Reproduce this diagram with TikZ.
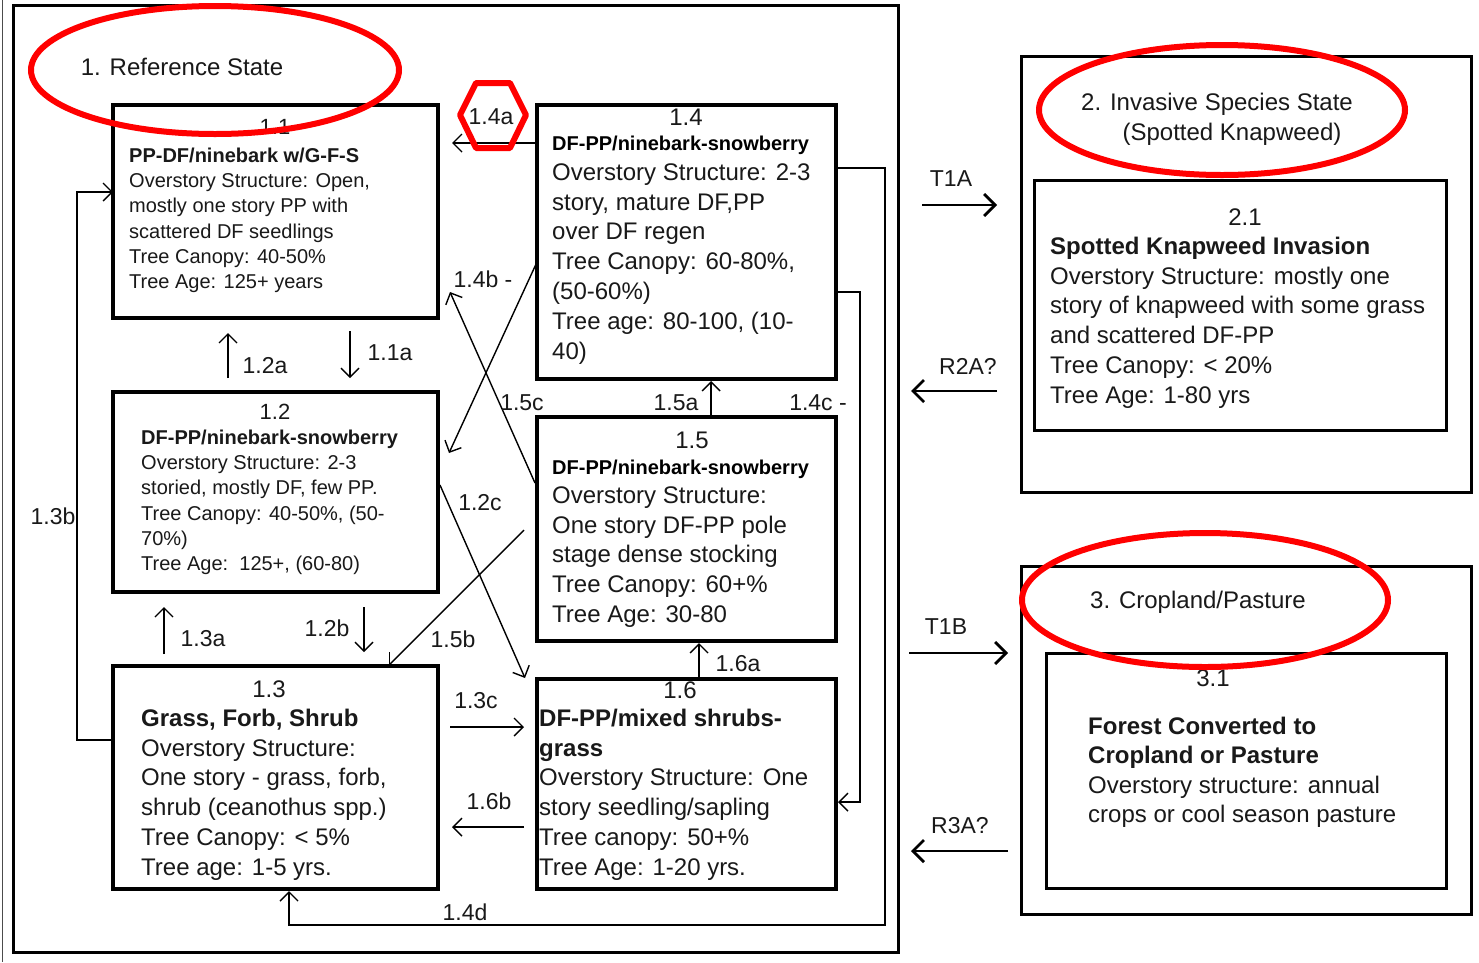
\documentclass[tikz,border=0pt]{standalone}
\usepackage{fontspec}
\setmainfont{Liberation Sans}
\usetikzlibrary{arrows.meta,calc}
\begin{document}
\begin{tikzpicture}[x=1pt,y=-1pt,
  statebox/.style={draw=black, line width=3.5pt, inner sep=0pt, outer sep=0pt},
  outerbox/.style={draw=black, line width=3pt, inner sep=0pt, outer sep=0pt},
  arr/.style={line width=1.4pt, -{Straight Barb[length=9pt,width=18pt]}},
  bigarr/.style={line width=2.8pt, -{Straight Barb[length=11pt,width=22pt]}},
  lbl/.style={font=\fontsize{23}{27}\selectfont, inner sep=0pt, text=black!90},
  numS/.style={font=\fontsize{22}{26}\selectfont, inner sep=0pt, text=black!90},
  numL/.style={font=\fontsize{24}{28}\selectfont, inner sep=0pt, text=black!90},
  bodyS/.style={align=left, anchor=north west, inner sep=0pt, font=\fontsize{20}{25.3}\selectfont, text=black!90},
  bodyL/.style={align=left, anchor=north west, inner sep=0pt, font=\fontsize{24}{29.8}\selectfont, text=black!90},
  titleS/.style={anchor=base west, inner sep=0pt, font=\fontsize{20}{24}\selectfont\bfseries},
  redring/.style={draw=red, line width=6pt},
]
\useasboundingbox (0,0) rectangle (1479,962);
\fill[white] (0,0) rectangle (1479,962);
\draw[line width=1pt, black!70] (2,0) -- (2,962);

% outer state boxes
\node[outerbox, minimum width=885pt, minimum height=947pt] (o1) at (455.5,478.5) {};
\node[outerbox, minimum width=450pt, minimum height=436pt] (o2) at (1246,274) {};
\node[outerbox, minimum width=450pt, minimum height=348pt] (o3) at (1246,740) {};

% community boxes
\node[statebox, minimum width=325pt, minimum height=213pt] (b11) at (275.5,211.5) {};
\node[statebox, minimum width=299pt, minimum height=274pt] (b14) at (686.5,242) {};
\node[statebox, minimum width=325pt, minimum height=200pt] (b12) at (275.5,492) {};
\node[statebox, minimum width=299pt, minimum height=224pt] (b15) at (686.5,529) {};
\node[statebox, minimum width=325pt, minimum height=223pt] (b13) at (275.5,777.5) {};
\node[statebox, minimum width=299pt, minimum height=210pt] (b16) at (686.5,784) {};
\node[outerbox, minimum width=412pt, minimum height=250pt] (b21) at (1240,305) {};
\node[outerbox, minimum width=400pt, minimum height=235pt] (b31) at (1246,770.5) {};

% box texts
\node[numS] (n11) at (275,127) {1.1};
\node[bodyS] (t11) at (129,143) {\rule{0pt}{19pt}\textbf{PP-DF/ninebark w/G-F-S}\\Overstory Structure: Open,\\mostly one story PP with\\scattered DF seedlings\\Tree Canopy: 40-50\%\\Tree Age: 125+ years};

\node[numL] (n14) at (686,117) {1.4};
\node[titleS] (h14) at (552,150) {DF-PP/ninebark-snowberry};
\node[bodyL] (t14) at (552,158) {\rule{0pt}{22pt}Overstory Structure: 2-3\\story, mature DF,PP\\over DF regen\\Tree Canopy: 60-80\%,\\(50-60\%)\\Tree age: 80-100, (10-\\40)};

\node[numS] (n12) at (275,412) {1.2};
\node[bodyS] (t12) at (141,425) {\rule{0pt}{19pt}\textbf{DF-PP/ninebark-snowberry}\\Overstory Structure: 2-3\\storied, mostly DF, few PP.\\Tree Canopy: 40-50\%, (50-\\70\%)\\Tree Age:\ \ 125+, (60-80)};

\node[numL] (n15) at (692,440) {1.5};
\node[titleS] (h15) at (552,474) {DF-PP/ninebark-snowberry};
\node[bodyL] (t15) at (552,481) {\rule{0pt}{22pt}Overstory Structure:\\One story DF-PP pole\\stage dense stocking\\Tree Canopy: 60+\%\\Tree Age: 30-80};

\node[numL] (n13) at (269,689) {1.3};
\node[bodyL] (t13) at (141,704) {\rule{0pt}{22pt}\textbf{Grass, Forb, Shrub}\\Overstory Structure:\\One story - grass, forb,\\shrub (ceanothus spp.)\\Tree Canopy: < 5\%\\Tree age: 1-5 yrs.};

\node[numL] (n16) at (680,690) {1.6};
\node[bodyL] (t16) at (539,704) {\rule{0pt}{22pt}\textbf{DF-PP/mixed shrubs-}\\\textbf{grass}\\Overstory Structure: One\\story seedling/sapling\\Tree canopy: 50+\%\\Tree Age: 1-20 yrs.};

\node[numL] (n21) at (1245,217) {2.1};
\node[bodyL] (t21) at (1050,232) {\rule{0pt}{22pt}\textbf{Spotted Knapweed Invasion}\\Overstory Structure: mostly one\\story of knapweed with some grass\\and scattered DF-PP\\Tree Canopy: < 20\%\\Tree Age: 1-80 yrs};

\node[numL] (n31) at (1213,678) {3.1};
\node[bodyL, font=\fontsize{24}{29.5}\selectfont] (t31) at (1088,712) {\rule{0pt}{22pt}\textbf{Forest Converted to}\\\textbf{Cropland or Pasture}\\Overstory structure: annual\\crops or cool season pasture};

% state titles
\node[numL] (s1) at (182,67) {1. Reference State};
\node[numL, align=center, font=\fontsize{24}{30}\selectfont] (s2) at (1217,119) {2. Invasive Species State\\\hspace*{30pt}(Spotted Knapweed)};
\node[numL] (s3) at (1198,602) {3. Cropland/Pasture};

% transitions inside state 1
\draw[arr] ($(b14.north west)+(0,38)$) -- ($(b11.north east)+(14,38)$);
\draw[arr] ($(b12.north west)+(115,-14)$) -- ($(b11.south west)+(115,15)$);
\draw[arr] ($(b11.south west)+(237,13)$) -- ($(b12.north west)+(237,-14)$);
\draw[arr] ($(b13.north west)+(51,-12)$) -- ($(b12.south west)+(51,15)$);
\draw[arr] ($(b12.south west)+(251,15)$) -- ($(b13.north west)+(251,-14)$);
\draw[arr] ($(b13.north west)+(0,74)$) -- ++(-36,0) |- ($(b11.north west)+(0,87)$);
\draw[arr] ($(b15.north west)+(-2,66)$) -- ($(b11.north east)+(12,187)$);
\draw[arr] ($(b14.north west)+(0,157)$) -- ($(b12.north east)+(11,61)$);
\draw[arr] ($(b12.north east)+(2,93)$) -- ($(b16.north west)+(-12,-1)$);
\draw[arr] ($(b15.north west)+(-13,113)$) -- ($(b13.north east)+(-49,-1)$);
\draw[arr] ($(b15.north west)+(174,0)$) -- ($(b14.south west)+(174,2)$);
\draw[arr] ($(b14.north east)+(0,187)$) -- ++(24,0) |- ($(b16.north east)+(2,123)$);
\draw[arr] ($(b14.north east)+(0,63)$) -- ++(49,0) -- ++(0,757) -| ($(b13.south west)+(176,2)$);
\draw[arr] ($(b16.north west)+(162,0)$) -- ($(b15.south west)+(162,2)$);
\draw[arr] ($(b13.north east)+(12,61)$) -- ($(b16.north west)+(-13,48)$);
\draw[arr] ($(b16.north west)+(-13,148)$) -- ($(b13.north east)+(14,161)$);

% transitions between states
\draw[bigarr] ($(o1.north east)+(24,200)$) -- ($(o2.north west)+(-24,149)$);
\draw[bigarr] ($(o2.north west)+(-24,335)$) -- ($(o1.north east)+(13,386)$);
\draw[bigarr] ($(o1.north east)+(11,648)$) -- ($(o3.north west)+(-13,87)$);
\draw[bigarr] ($(o3.north west)+(-13,285)$) -- ($(o1.north east)+(13,846)$);

% labels
\node[lbl] (l14a) at (491,117) {1.4a};
\node[lbl] (l14b) at (483,279) {1.4b -};
\node[lbl] (l15c) at (522,403) {1.5c};
\node[lbl] (l15a) at (676,403) {1.5a};
\node[lbl] (l14c) at (818,403) {1.4c -};
\node[lbl] (l12a) at (265,366) {1.2a};
\node[lbl] (l11a) at (390,353) {1.1a};
\node[lbl] (l13b) at (53,516) {1.3b};
\node[lbl] (l12c) at (480,503) {1.2c};
\node[lbl] (l13a) at (203,639) {1.3a};
\node[lbl] (l12b) at (327,628) {1.2b};
\node[lbl] (l15b) at (453,639) {1.5b};
\node[lbl] (l16a) at (738,664) {1.6a};
\node[lbl] (l13c) at (476,701) {1.3c};
\node[lbl] (l16b) at (489,801) {1.6b};
\node[lbl] (l14d) at (465,912) {1.4d};
\node[lbl] (lt1a) at (951,179) {T1A};
\node[lbl] (lr2a) at (968,366) {R2A?};
\node[lbl] (lt1b) at (946,627) {T1B};
\node[lbl] (lr3a) at (960,826) {R3A?};

% red highlights
\draw[redring] (215,70) ellipse [x radius=184pt, y radius=64pt];
\draw[redring] (1222,110) ellipse [x radius=183pt, y radius=65pt];
\draw[redring] (1205,600) ellipse [x radius=183pt, y radius=67pt];
\draw[redring, line join=round] ($(l14a)+(-31,-2)$) -- ($(l14a)+(-15,-34)$) -- ($(l14a)+(19,-34)$) -- ($(l14a)+(35,-2)$) -- ($(l14a)+(19,31)$) -- ($(l14a)+(-15,31)$) -- cycle;
\end{tikzpicture}
\end{document}
